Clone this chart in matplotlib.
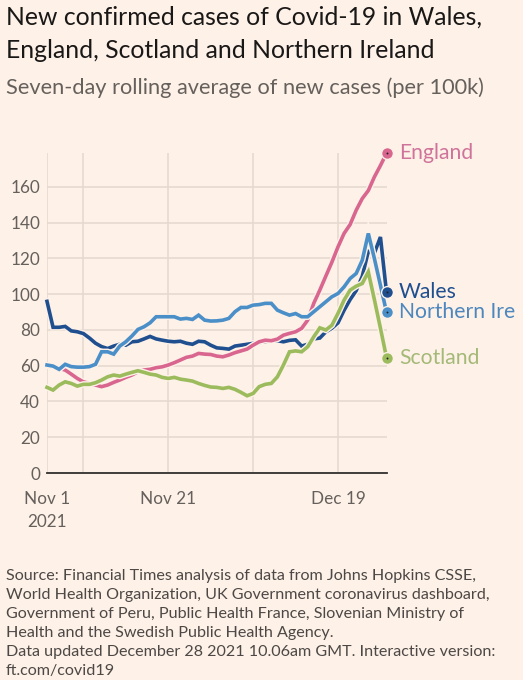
import matplotlib.pyplot as plt
import matplotlib.patheffects as pe
import pandas as pd

dates = pd.date_range("2021-11-01", "2021-12-27", freq="D")

wales = [96, 81.5, 81.5, 82, 79.5, 79, 78, 75.5, 72.6, 70.7,
         69.6, 71, 72, 71.5, 73.4, 73.7, 75, 76.4, 75, 74.3,
         73.7, 73.4, 73.7, 72.6, 72, 73.7, 73.4, 71.5, 70, 69.7,
         69.3, 71, 71.5, 72, 72.5, 73, 73.5, 74, 74, 73.4,
         74.2, 74.5, 71, 72, 75, 75.5, 79, 81, 84, 91,
         97, 102, 110, 124, 123, 132, 101]
northern_ireland = [60.4, 59.8, 58, 60.8, 59.5, 59.2, 59.2, 59.5, 60.8, 67.8,
                    67.8, 66.5, 71, 73.4, 76.6, 80.3, 81.8, 84, 87.4, 87.4,
                    87.4, 87.4, 86.1, 86.5, 85.9, 88.3, 85.5, 85, 85.1, 85.5,
                    86.5, 90.2, 92.6, 92.6, 93.9, 94.2, 94.9, 94.9, 91.1, 89.6,
                    88.3, 89.2, 87.4, 87.4, 90.2, 93, 95.8, 98.6, 100.4, 104.1,
                    108.8, 111.6, 119, 134, 120, 105, 90]
england = [60, 59.5, 58.5, 57.6, 55.3, 52.9, 51, 50.1, 49.2, 48.3,
           49.2, 50.7, 52, 53.5, 54.8, 56.6, 57.6, 58, 58.9, 59.4,
           60.4, 61.7, 63.2, 64.7, 65.4, 66.9, 66.5, 66.3, 65.4, 65,
           66, 67.3, 68.3, 69.3, 71.5, 73.4, 74.3, 74, 74.9, 77.1,
           78.1, 79, 80.9, 85.5, 94.9, 102.3, 110.2, 118, 126.5, 134,
           139, 147, 153.5, 158, 165.6, 172, 178.8]
scotland = [47.9, 46.4, 49.2, 51, 50.1, 48.6, 49.6, 49.6, 50.5, 52,
            53.8, 54.8, 54.2, 55.3, 56.3, 57.2, 56.3, 55.3, 54.8, 53.5,
            52.9, 53.5, 52.5, 52, 51.4, 50.1, 49, 48.1, 47.9, 47.3,
            47.9, 46.8, 45.1, 43.2, 44.5, 48.3, 49.6, 50.1, 53.8, 60.4,
            67.8, 68.3, 67.8, 70.6, 76.2, 81.2, 80, 82.7, 89.3, 96.7,
            102.3, 104.5, 106, 112.5, 97, 81, 64.6]

series = [
    ("Wales", wales, "#1f4f8f", "#1f4f8f"),
    ("England", england, "#d9668f", "#d0739a"),
    ("Northern Ire", northern_ireland, "#4b8fc9", "#4d87bd"),
    ("Scotland", scotland, "#9bbb5c", "#a5b977"),
]

y_ticks = [0, 20, 40, 60, 80, 100, 120, 140, 160]
x_ticks = ["2021-11-01", "2021-11-21", "2021-12-19"]
x_tick_labels = ["Nov 1\n2021", "Nov 21", "Dec 19"]
x_grid_extra = ["2021-11-07", "2021-12-05"]

bg = "#fdf1e8"
plt.rcParams["font.family"] = ["Lato", "DejaVu Sans"]

fig = plt.figure(figsize=(5.23, 6.8), dpi=100, facecolor=bg)
ax = fig.add_axes([47 / 523, 1 - 473 / 680, (386.5 - 47) / 523, 320 / 680])
ax.set_facecolor(bg)

halo = [pe.withStroke(linewidth=4.6, foreground=bg)]
for name, vals, col, txtcol in series:
    ax.plot(dates, vals, color=col, lw=2.6, solid_joinstyle="miter",
            path_effects=halo, clip_on=False, zorder=3)
    ax.plot(dates[-1], vals[-1], "o", ms=8.5, color=col, mec=bg, mew=1,
            clip_on=False, zorder=4)
    ax.plot(dates[-1], vals[-1], "o", ms=1.4, color="#222222", mew=0,
            clip_on=False, zorder=5)
    ax.annotate(name, (dates[-1], vals[-1]), xytext=(9, 0),
                textcoords="offset points", va="center", ha="left",
                fontsize=15.2, color=txtcol, annotation_clip=False)

ax.set_xlim(dates[0], dates[-1])
ax.set_ylim(0, 179)
ax.set_yticks(y_ticks)
ax.set_xticks(pd.to_datetime(x_ticks))
ax.set_xticklabels(x_tick_labels)
ax.set_xticks(pd.to_datetime(x_grid_extra), minor=True)
ax.grid(True, which="both", color="#e5d8cd", lw=1.1, zorder=0)
ax.set_axisbelow(True)
ax.tick_params(axis="both", which="both", length=0, labelsize=12.3,
               labelcolor="#66605c")
ax.tick_params(axis="x", pad=13)
ax.tick_params(axis="y", pad=5)
for lab in ax.get_xticklabels():
    lab.set_linespacing(1.5)
for s in ["left", "right", "top"]:
    ax.spines[s].set_visible(False)
ax.spines["bottom"].set_color("#33302e")
ax.spines["bottom"].set_linewidth(1.3)

fig.text(6 / 523, 1 - 25 / 680, "New confirmed cases of Covid-19 in Wales,",
         fontsize=17.8, color="#1a1817", va="baseline")
fig.text(6 / 523, 1 - 58 / 680, "England, Scotland and Northern Ireland",
         fontsize=17.8, color="#1a1817", va="baseline")
fig.text(6 / 523, 1 - 94 / 680,
         "Seven-day rolling average of new cases (per 100k)",
         fontsize=15.7, color="#66605c", va="baseline")

source_lines = [
    "Source: Financial Times analysis of data from Johns Hopkins CSSE,",
    "World Health Organization, UK Government coronavirus dashboard,",
    "Government of Peru, Public Health France, Slovenian Ministry of",
    "Health and the Swedish Public Health Agency.",
    "Data updated December 28 2021 10.06am GMT. Interactive version:",
    "ft.com/covid19",
]
for i, line in enumerate(source_lines):
    fig.text(6 / 523, 1 - (580 + i * 19.0) / 680, line,
             fontsize=11.6, color="#4d4845", va="baseline")

fig.savefig("out.png", dpi=100, facecolor=bg)
